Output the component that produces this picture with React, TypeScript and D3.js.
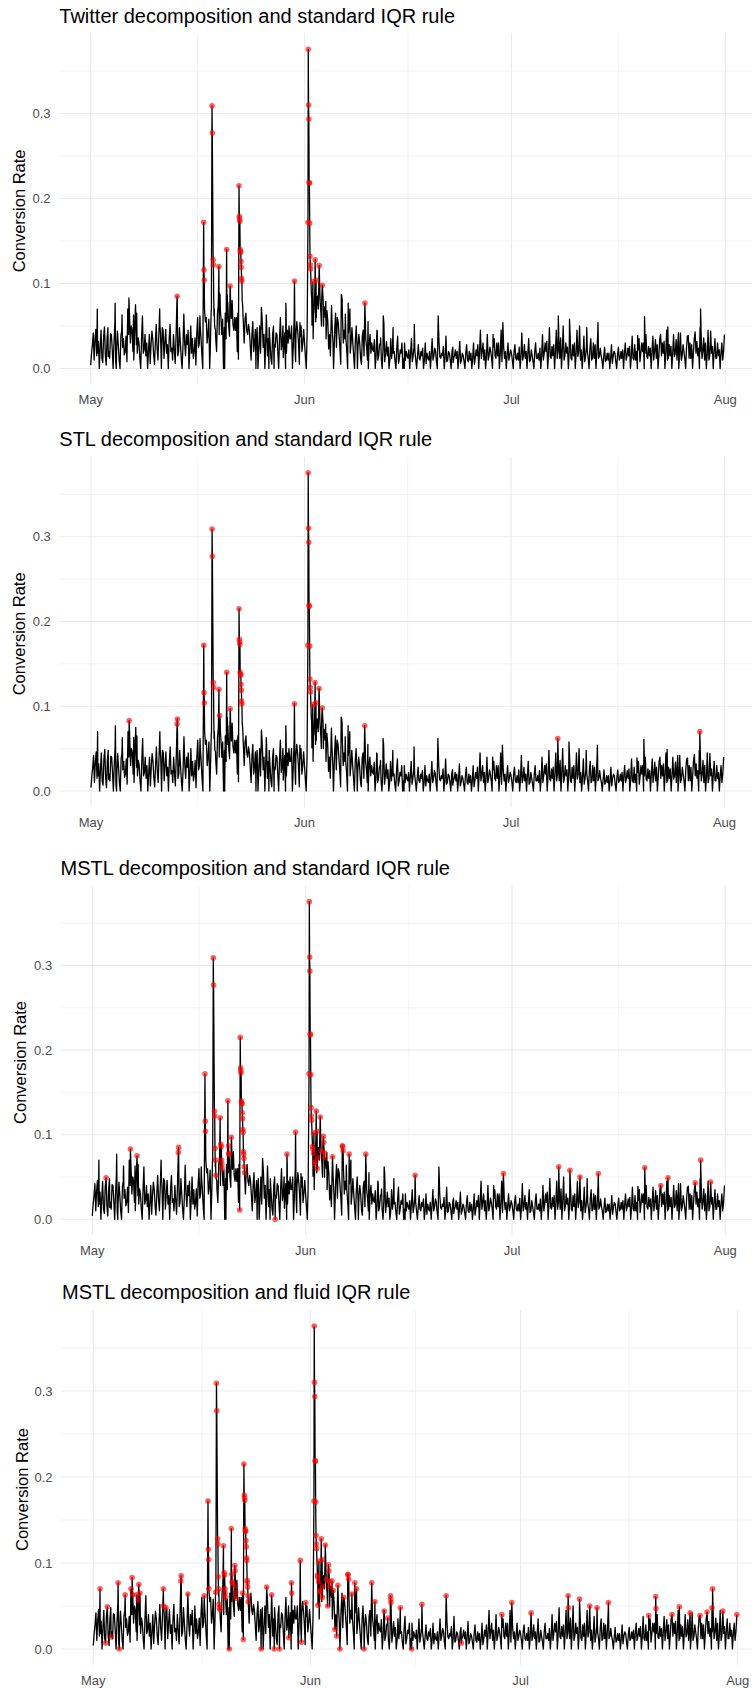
import * as d3 from "d3";

// hours are counted from 2023-05-01 00:00 UTC
const START = Date.UTC(2023, 4, 1);
const END = Date.UTC(2023, 7, 1);
const HOUR = 3600 * 1000;
const STEP = 3; // hours between base readings

const panelTitles = [
  "Twitter decomposition and standard IQR rule",
  "STL decomposition and standard IQR rule",
  "MSTL decomposition and standard IQR rule",
  "MSTL decomposition and fluid IQR rule",
];

// three-hourly readings, one row per day (00h ... 21h)
const baseRate: number[] = [
  0.004, 0.018, 0.028, 0.042, 0.010, 0.033, 0.046, 0.015,
  0.018, 0.032, 0.000, 0.025, 0.045, 0.012, 0.022, 0.038,
  0.030, 0.015, 0.004, 0.036, 0.048, 0.020, 0.012, 0.041,
  0.040, 0.022, 0.000, 0.030, 0.052, 0.008, 0.020, 0.044,
  0.028, 0.010, 0.000, 0.038, 0.045, 0.025, 0.035, 0.016,
  0.020, 0.038, 0.008, 0.022, 0.040, 0.014, 0.030, 0.050,
  0.045, 0.020, 0.010, 0.042, 0.050, 0.028, 0.018, 0.036,
  0.030, 0.012, 0.000, 0.035, 0.062, 0.018, 0.022, 0.040,
  0.015, 0.030, 0.000, 0.020, 0.040, 0.006, 0.028, 0.044,
  0.035, 0.016, 0.005, 0.030, 0.052, 0.024, 0.010, 0.038,
  0.025, 0.040, 0.000, 0.018, 0.045, 0.012, 0.030, 0.046,
  0.018, 0.028, 0.000, 0.034, 0.052, 0.020, 0.024, 0.010,
  0.040, 0.022, 0.006, 0.038, 0.035, 0.015, 0.020, 0.048,
  0.030, 0.012, 0.000, 0.026, 0.055, 0.030, 0.015, 0.040,
  0.028, 0.045, 0.000, 0.022, 0.050, 0.018, 0.035, 0.012,
  0.020, 0.036, 0.004, 0.040, 0.060, 0.025, 0.030, 0.050,
  0.035, 0.015, 0.000, 0.042, 0.045, 0.055, 0.060, 0.030,
  0.040, 0.058, 0.000, 0.035, 0.070, 0.050, 0.030, 0.062,
  0.050, 0.035, 0.020, 0.064, 0.075, 0.040, 0.045, 0.068,
  0.040, 0.058, 0.000, 0.048, 0.065, 0.035, 0.055, 0.072,
  0.050, 0.038, 0.030, 0.066, 0.080, 0.052, 0.045, 0.060,
  0.045, 0.060, 0.020, 0.050, 0.060, 0.075, 0.060, 0.070,
  0.055, 0.040, 0.030, 0.058, 0.065, 0.045, 0.040, 0.052,
  0.045, 0.028, 0.010, 0.040, 0.055, 0.020, 0.030, 0.046,
  0.030, 0.048, 0.000, 0.025, 0.050, 0.018, 0.040, 0.055,
  0.025, 0.040, 0.000, 0.032, 0.055, 0.015, 0.035, 0.048,
  0.030, 0.012, 0.005, 0.040, 0.050, 0.028, 0.025, 0.042,
  0.040, 0.020, 0.000, 0.036, 0.060, 0.022, 0.030, 0.050,
  0.025, 0.042, 0.000, 0.018, 0.045, 0.030, 0.050, 0.035,
  0.035, 0.050, 0.000, 0.028, 0.060, 0.025, 0.040, 0.055,
  0.045, 0.030, 0.005, 0.038, 0.050, 0.020, 0.030, 0.046,
  0.030, 0.015, 0.000, 0.040, 0.060, 0.080, 0.095, 0.090,
  0.080, 0.060, 0.035, 0.070, 0.095, 0.055, 0.060, 0.085,
  0.070, 0.040, 0.030, 0.065, 0.085, 0.045, 0.050, 0.072,
  0.060, 0.035, 0.025, 0.055, 0.070, 0.040, 0.045, 0.062,
  0.050, 0.030, 0.010, 0.045, 0.065, 0.025, 0.030, 0.055,
  0.040, 0.025, 0.005, 0.050, 0.060, 0.030, 0.045, 0.035,
  0.035, 0.020, 0.000, 0.042, 0.055, 0.018, 0.030, 0.048,
  0.030, 0.015, 0.000, 0.035, 0.050, 0.022, 0.025, 0.040,
  0.030, 0.012, 0.005, 0.038, 0.045, 0.015, 0.020, 0.035,
  0.025, 0.010, 0.000, 0.030, 0.040, 0.018, 0.030, 0.022,
  0.020, 0.034, 0.000, 0.015, 0.045, 0.010, 0.015, 0.028,
  0.030, 0.012, 0.000, 0.022, 0.040, 0.008, 0.018, 0.032,
  0.015, 0.025, 0.000, 0.010, 0.035, 0.012, 0.025, 0.018,
  0.020, 0.008, 0.000, 0.024, 0.038, 0.006, 0.012, 0.022,
  0.018, 0.030, 0.000, 0.012, 0.030, 0.010, 0.020, 0.015,
  0.012, 0.022, 0.000, 0.018, 0.035, 0.008, 0.015, 0.025,
  0.020, 0.010, 0.000, 0.015, 0.028, 0.012, 0.010, 0.020,
  0.015, 0.024, 0.000, 0.010, 0.030, 0.006, 0.018, 0.012,
  0.010, 0.020, 0.000, 0.016, 0.035, 0.010, 0.015, 0.024,
  0.020, 0.008, 0.000, 0.022, 0.030, 0.014, 0.012, 0.018,
  0.015, 0.026, 0.000, 0.012, 0.038, 0.008, 0.010, 0.020,
  0.018, 0.010, 0.000, 0.020, 0.025, 0.012, 0.015, 0.022,
  0.012, 0.020, 0.000, 0.014, 0.032, 0.006, 0.010, 0.018,
  0.015, 0.008, 0.000, 0.018, 0.028, 0.010, 0.008, 0.020,
  0.010, 0.018, 0.000, 0.012, 0.030, 0.005, 0.012, 0.022,
  0.015, 0.028, 0.000, 0.020, 0.045, 0.012, 0.020, 0.030,
  0.010, 0.022, 0.000, 0.015, 0.040, 0.010, 0.015, 0.025,
  0.020, 0.012, 0.000, 0.025, 0.035, 0.015, 0.012, 0.030,
  0.015, 0.030, 0.000, 0.018, 0.045, 0.008, 0.010, 0.024,
  0.012, 0.020, 0.000, 0.016, 0.030, 0.010, 0.015, 0.022,
  0.018, 0.010, 0.000, 0.020, 0.028, 0.012, 0.010, 0.018,
  0.010, 0.025, 0.000, 0.014, 0.042, 0.010, 0.015, 0.028,
  0.012, 0.020, 0.000, 0.018, 0.035, 0.008, 0.010, 0.022,
  0.015, 0.008, 0.000, 0.020, 0.030, 0.012, 0.012, 0.018,
  0.010, 0.024, 0.000, 0.015, 0.040, 0.010, 0.018, 0.030,
  0.020, 0.032, 0.000, 0.018, 0.048, 0.014, 0.012, 0.026,
  0.015, 0.028, 0.000, 0.020, 0.045, 0.012, 0.020, 0.034,
  0.012, 0.036, 0.000, 0.022, 0.050, 0.010, 0.015, 0.030,
  0.018, 0.025, 0.000, 0.020, 0.040, 0.012, 0.010, 0.028,
  0.015, 0.030, 0.000, 0.018, 0.045, 0.014, 0.020, 0.032,
  0.010, 0.022, 0.000, 0.016, 0.038, 0.008, 0.015, 0.026,
  0.020, 0.012, 0.000, 0.024, 0.035, 0.010, 0.012, 0.030,
  0.012, 0.028, 0.000, 0.018, 0.040, 0.012, 0.015, 0.024,
  0.015, 0.010, 0.000, 0.014, 0.025, 0.008, 0.010, 0.018,
  0.010, 0.018, 0.000, 0.012, 0.028, 0.006, 0.015, 0.020,
  0.018, 0.008, 0.000, 0.016, 0.025, 0.010, 0.012, 0.020,
  0.012, 0.022, 0.000, 0.018, 0.030, 0.010, 0.015, 0.024,
  0.015, 0.026, 0.000, 0.014, 0.038, 0.012, 0.010, 0.028,
  0.010, 0.020, 0.000, 0.022, 0.035, 0.008, 0.018, 0.030,
  0.020, 0.030, 0.000, 0.018, 0.040, 0.014, 0.012, 0.026,
  0.015, 0.024, 0.000, 0.020, 0.038, 0.010, 0.020, 0.034,
  0.012, 0.028, 0.000, 0.016, 0.035, 0.012, 0.015, 0.030,
  0.018, 0.032, 0.000, 0.020, 0.045, 0.010, 0.012, 0.028,
  0.015, 0.026, 0.000, 0.018, 0.040, 0.014, 0.018, 0.034,
  0.010, 0.030, 0.000, 0.016, 0.042, 0.010, 0.015, 0.028,
  0.020, 0.012, 0.000, 0.024, 0.038, 0.012, 0.012, 0.030,
  0.012, 0.028, 0.000, 0.018, 0.035, 0.010, 0.018, 0.032,
  0.015, 0.024, 0.000, 0.020, 0.040, 0.012, 0.020, 0.036,
  0.010, 0.030, 0.000, 0.016, 0.045, 0.010, 0.015, 0.028,
  0.018, 0.026, 0.000, 0.020, 0.035, 0.012, 0.012, 0.030,
  0.015, 0.022, 0.000, 0.018, 0.030, 0.010, 0.020, 0.034,
];

// hourly readings around the flagged hours: [hour, rate]
const detailRate: [number, number][] = [
  [23, 0.070], [42, 0.007], [48, 0.049], [61, 0.014], [85, 0.077], [89, 0.0], [109, 0.063],
  [129, 0.070], [133, 0.083], [135, 0.063], [149, 0.063], [154, 0.057], [156, 0.075], [160, 0.065],
  [240, 0.070], [241, 0.050], [249, 0.048], [300, 0.079], [301, 0.085], [324, 0.064], [380, 0.062],
  [393, 0.172], [394, 0.116], [395, 0.104], [396, 0.070], [419, 0.066], [422, 0.309], [423, 0.277],
  [426, 0.128], [427, 0.122], [428, 0.084], [430, 0.070], [431, 0.052], [432, 0.048], [434, 0.046],
  [446, 0.120], [448, 0.089], [450, 0.086], [451, 0.070], [452, 0.065], [453, 0.060], [466, 0.0],
  [473, 0.140], [475, 0.087], [476, 0.078], [477, 0.077], [485, 0.097], [486, 0.091], [487, 0.073],
  [488, 0.066], [489, 0.059], [512, 0.065], [514, 0.011], [516, 0.215], [517, 0.179], [518, 0.176],
  [519, 0.173], [520, 0.140], [521, 0.137], [522, 0.137], [523, 0.126], [524, 0.119], [525, 0.106],
  [526, 0.103], [527, 0.080], [528, 0.077], [529, 0.072], [530, 0.062], [531, 0.055], [575, 0.0],
  [594, 0.072], [611, 0.063], [620, 0.0], [638, 0.0], [670, 0.013], [679, 0.077], [680, 0.065],
  [709, 0.103], [713, 0.008], [728, 0.054], [756, 0.172], [757, 0.3755], [758, 0.310], [759, 0.2935],
  [760, 0.219], [761, 0.218], [762, 0.171], [763, 0.132], [764, 0.122], [765, 0.117], [768, 0.086],
  [769, 0.083], [770, 0.051], [772, 0.078], [773, 0.102], [776, 0.068], [777, 0.066], [781, 0.128],
  [784, 0.104], [785, 0.060], [786, 0.073], [795, 0.121], [798, 0.081], [803, 0.050], [806, 0.098],
  [807, 0.091], [809, 0.079], [811, 0.073], [818, 0.079], [822, 0.068], [828, 0.023], [834, 0.015],
  [838, 0.074], [845, 0.0], [858, 0.060], [872, 0.087], [873, 0.086], [875, 0.081], [886, 0.064],
  [896, 0.077], [902, 0.070], [928, 0.0], [954, 0.077], [965, 0.055], [997, 0.044], [1009, 0.036],
  [1018, 0.062], [1019, 0.058], [1020, 0.054], [1052, 0.048], [1091, 0.0], [1126, 0.052], [1209, 0.062],
  [1261, 0.007], [1400, 0.040], [1434, 0.054], [1500, 0.042], [1627, 0.062], [1628, 0.048], [1666, 0.058],
  [1701, 0.050], [1726, 0.048], [1765, 0.054], [1903, 0.039], [1927, 0.061], [1928, 0.047], [1983, 0.040],
  [2008, 0.049], [2045, 0.042], [2079, 0.039], [2103, 0.043], [2120, 0.048], [2122, 0.070], [2157, 0.044],
  [2205, 0.040],
];

// flagged hours per method
const twitterFlags = [
  301, 393, 394, 395, 422, 423, 426, 427, 446, 473, 485, 516, 517, 518, 519, 520, 521, 522, 523, 524,
  525, 526, 709, 756, 757, 758, 759, 760, 761, 762, 763, 764, 765, 773, 781, 784, 795, 806, 954,
];
const stlFlags = [...twitterFlags, 133, 300, 448, 1627, 2122];
const mstlFlags = [
  ...stlFlags, 48, 156, 428, 430, 431, 450, 451, 452, 453, 475, 476, 477, 514, 527, 528, 529, 530, 531,
  638, 679, 768, 769, 772, 776, 777, 785, 786, 798, 807, 809, 811, 838, 872, 873, 875, 896, 1126, 1434,
  1666, 1701, 1765, 1927, 1983, 2008, 2103, 2157,
];
const fluidFlags = [
  ...mstlFlags, 23, 42, 61, 85, 89, 109, 129, 135, 149, 154, 160, 240, 241, 249, 324, 380, 396, 419, 432,
  434, 466, 486, 487, 488, 489, 512, 575, 594, 611, 620, 670, 680, 713, 728, 770, 803, 818, 822, 828, 834,
  845, 858, 886, 902, 928, 965, 997, 1009, 1018, 1019, 1020, 1052, 1091, 1209, 1261, 1400, 1500, 1628,
  1726, 1903, 1928, 2045, 2079, 2120, 2205,
];

const yMajor = [0, 0.1, 0.2, 0.3];
const yMinor = [0.05, 0.15, 0.25, 0.35];

interface Pt {
  hour: number;
  date: Date;
  value: number;
}

const byHour = new Map<number, number>();
baseRate.forEach((v, i) => byHour.set(i * STEP, v));
detailRate.forEach(([h, v]) => byHour.set(h, v));
const series: Pt[] = Array.from(byHour.entries())
  .sort((a, b) => a[0] - b[0])
  .map(([h, v]) => ({ hour: h, date: new Date(START + h * HOUR), value: v }));

// pixel frame of each panel in the page (reference layout)
const frames = [
  { xMay: 90.7, xAug: 725.3, y0: 368.5, y3: 113.5, titleX: 59.3, axisX: 25 },
  { xMay: 91.0, xAug: 724.5, y0: 791, y3: 536.7, titleX: 59.3, axisX: 25 },
  { xMay: 92.3, xAug: 725.3, y0: 1219.3, y3: 965.5, titleX: 60.5, axisX: 26 },
  { xMay: 93.3, xAug: 737.7, y0: 1649, y3: 1391, titleX: 62, axisX: 28 },
];

const FONT = "'Liberation Sans', Arial, Helvetica, sans-serif";
const GRID = "#ebebeb";

function Panel({
  title,
  flags,
  frame,
}: {
  title: string;
  flags: number[];
  frame: (typeof frames)[number];
}) {
  const x = d3
    .scaleUtc()
    .domain([new Date(START), new Date(END)])
    .range([frame.xMay, frame.xAug]);
  const y = d3.scaleLinear().domain([0, 0.3]).range([frame.y0, frame.y3]);

  // ggplot-style 5% expansion of the data range
  const [tMin, tMax] = d3.extent(series, (d) => +d.date) as [number, number];
  const [vMin, vMax] = d3.extent(series, (d) => d.value) as [number, number];
  const left = x(new Date(tMin - (tMax - tMin) * 0.05));
  const right = 752;
  const top = y(vMax + (vMax - vMin) * 0.05);
  const bottom = y(vMin - (vMax - vMin) * 0.05);

  const months = d3.utcMonth.range(new Date(START), new Date(END + 1));
  const minorX = months.slice(1).map((m, i) => new Date((+m + +months[i]) / 2));

  const line = d3
    .line<Pt>()
    .x((d) => x(d.date))
    .y((d) => y(d.value));

  const flagged = flags
    .filter((h) => byHour.has(h))
    .map((h) => ({ date: new Date(START + h * HOUR), value: byHour.get(h)! }));

  const fmtY = d3.format(".1f");
  const fmtX = d3.utcFormat("%b");

  return (
    <g>
      {/* grid */}
      {yMinor.map((v) => (
        <line key={"ym" + v} x1={left} x2={right} y1={y(v)} y2={y(v)} stroke={GRID} strokeWidth={0.6} />
      ))}
      {minorX.map((d) => (
        <line key={"xm" + +d} x1={x(d)} x2={x(d)} y1={top} y2={bottom} stroke={GRID} strokeWidth={0.6} />
      ))}
      {yMajor.map((v) => (
        <line key={"y" + v} x1={left} x2={right} y1={y(v)} y2={y(v)} stroke={GRID} strokeWidth={1.1} />
      ))}
      {months.map((d) => (
        <line key={"x" + +d} x1={x(d)} x2={x(d)} y1={top} y2={bottom} stroke={GRID} strokeWidth={1.1} />
      ))}

      {/* series */}
      <path d={line(series) ?? ""} fill="none" stroke="#000" strokeWidth={1.3} strokeLinejoin="round" />
      {flagged.map((d, i) => (
        <circle key={i} cx={x(d.date)} cy={y(d.value)} r={2.8} fill="#ff0000" fillOpacity={0.62} />
      ))}

      {/* axes labels */}
      {yMajor.map((v) => (
        <text
          key={"yl" + v}
          x={left - 8.5}
          y={y(v)}
          dy="0.35em"
          textAnchor="end"
          fontSize={13}
          fill="#4d4d4d"
        >
          {fmtY(v)}
        </text>
      ))}
      {months.map((d) => (
        <text key={"xl" + +d} x={x(d)} y={bottom + 20} textAnchor="middle" fontSize={13} fill="#4d4d4d">
          {fmtX(d)}
        </text>
      ))}
      <text
        transform={`translate(${frame.axisX},${(top + bottom) / 2 + 2}) rotate(-90)`}
        textAnchor="middle"
        fontSize={16.5}
        fill="#000"
      >
        Conversion Rate
      </text>
      <text x={frame.titleX} y={top - 10.5} fontSize={20} fill="#000">
        {title}
      </text>
    </g>
  );
}

const panelFlags = [twitterFlags, stlFlags, mstlFlags, fluidFlags];

export default function App() {
  return (
    <div>
      <style>{"body{margin:0;background:#fff}"}</style>
      <svg width={752} height={1688} style={{ display: "block" }} fontFamily={FONT}>
        <rect width={752} height={1688} fill="#fff" />
        {panelTitles.map((t, i) => (
          <Panel key={t} title={t} flags={panelFlags[i]} frame={frames[i]} />
        ))}
      </svg>
    </div>
  );
}
